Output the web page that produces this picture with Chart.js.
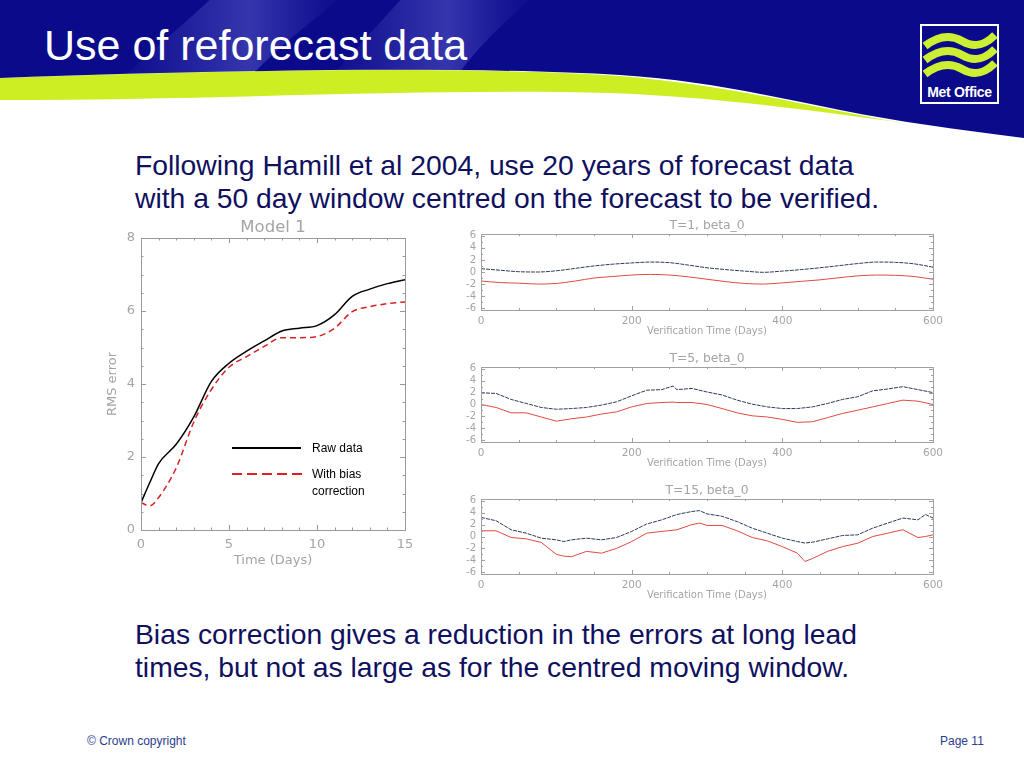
<!DOCTYPE html>
<html>
<head>
<meta charset="utf-8">
<script src="https://cdn.jsdelivr.net/npm/chart.js"></script>
<style>
body { margin: 0; background: #fff; }
#slide { position: relative; width: 1024px; height: 768px; overflow: hidden; font-family: "Liberation Sans", Arial, sans-serif; }
.abs { position: absolute; }
.body-text { color: #101060; font-size: 28.3px; line-height: 33px; white-space: nowrap; }
.foot { color: #2b3d8c; font-size: 12px; top: 734px; }
.leg { font-size: 12px; color: #000; line-height: 17px; }
canvas { position: absolute; }
</style>
</head>
<body>
<div id="slide">

<!-- Kopfzeile -->
<svg class="abs" style="left:0;top:0" width="1024" height="145" viewBox="0 0 1024 145">
  <defs>
    <linearGradient id="band" x1="0" y1="0" x2="1" y2="0">
      <stop offset="0" stop-color="#5a5ad0" stop-opacity="0"/>
      <stop offset="0.6" stop-color="#6a6ad8" stop-opacity="0.45"/>
      <stop offset="1" stop-color="#5a5ad0" stop-opacity="0"/>
    </linearGradient>
    <clipPath id="blueClip">
      <path d="M0,0 H1024 V138 C960,130 900,122 840,110 C760,94 700,80 620,75 C470,66 220,70 0,78 Z"/>
    </clipPath>
  </defs>
  <path d="M0,78 C220,70 480,66 620,76 C740,86 830,112 905,123 C820,112 720,97 610,93 C430,88 220,100 0,100 Z" fill="#ccee22"/>
  <path d="M0,0 H1024 V138 C960,130 900,122 840,110 C760,94 700,80 620,75 C470,66 220,70 0,78 Z" fill="#0a0a8a"/>
  <g clip-path="url(#blueClip)">
    <path d="M215,-5 L345,-5 C300,30 260,62 235,95 L105,95 C140,60 180,28 215,-5 Z" fill="url(#band)"/>
    <path d="M405,-5 L535,-5 C495,30 465,60 445,95 L315,95 C345,60 375,28 405,-5 Z" fill="url(#band)"/>
  </g>
  <rect x="921" y="25" width="77" height="78" fill="#0a0a8a" stroke="#fff" stroke-width="2"/>
  <path d="M925,46 C938,36 950,34 962,41 S984,46 995,35" stroke="#ccee33" stroke-width="8" fill="none"/>
  <path d="M925,60 C938,50 950,48 962,55 S984,60 995,49" stroke="#ccee33" stroke-width="8" fill="none"/>
  <path d="M925,74 C938,64 950,62 962,69 S984,74 995,63" stroke="#ccee33" stroke-width="8" fill="none"/>
  <text x="959.5" y="97" text-anchor="middle" fill="#fff" font-family="Liberation Sans, Arial, sans-serif" font-weight="bold" font-size="14" letter-spacing="-0.3">Met Office</text>
</svg>
<div class="abs" style="left:44px;top:21px;color:#fff;font-size:43px;white-space:nowrap;">Use of reforecast data</div>

<div class="abs body-text" style="left:135px;top:149px;">Following Hamill et al 2004, use 20 years of forecast data<br>with a 50 day window centred on the forecast to be verified.</div>

<canvas id="model"></canvas>
<canvas id="t1"></canvas>
<canvas id="t5"></canvas>
<canvas id="t15"></canvas>

<!-- Legende im linken Diagramm -->
<div class="abs" style="left:232px;top:447px;width:69px;border-top:2px solid #000;"></div>
<svg class="abs" style="left:232px;top:469px" width="72" height="10"><line x1="0" y1="5" x2="72" y2="5" stroke="#e02020" stroke-width="2" stroke-dasharray="10,5"/></svg>
<div class="abs leg" style="left:312px;top:440px;">Raw data</div>
<div class="abs leg" style="left:312px;top:466px;">With bias<br>correction</div>

<div class="abs body-text" style="left:135px;top:618px;">Bias correction gives a reduction in the errors at long lead<br>times, but not as large as for the centred moving window.</div>

<div class="abs foot" style="left:87px;">© Crown copyright</div>
<div class="abs foot" style="left:940px;">Page 11</div>
</div>

<script>
// Model 1: RMS-Fehler
var modelDays = [0, 0.5, 1, 2, 3, 4, 5, 6, 7, 8, 9, 10, 11, 12, 13, 14, 15];
var rawRms    = [0.75, 1.3, 1.82, 2.35, 3.1, 4.07, 4.57, 4.9, 5.18, 5.45, 5.53, 5.6, 5.9, 6.4, 6.6, 6.75, 6.86];
var biasRms   = [0.75, 0.66, 0.89, 1.7, 2.96, 3.85, 4.46, 4.75, 5.03, 5.27, 5.27, 5.3, 5.53, 5.98, 6.12, 6.2, 6.25];

// T=1, beta_0
var t1Days = [0, 25, 50, 75, 100, 125, 150, 175, 200, 225, 250, 275, 300, 325, 350, 375, 400, 425, 450, 475, 500, 525, 550, 575, 600];
var t1Dark = [0.55, 0.3, 0.05, 0, 0.2, 0.6, 1.0, 1.3, 1.5, 1.65, 1.55, 1.15, 0.7, 0.4, 0.15, -0.05, 0.15, 0.4, 0.7, 1.05, 1.4, 1.65, 1.6, 1.35, 0.8];
var t1Red  = [-1.5, -1.75, -1.85, -2.0, -1.9, -1.5, -1.0, -0.75, -0.5, -0.4, -0.5, -0.8, -1.2, -1.6, -1.9, -2.0, -1.8, -1.55, -1.3, -0.95, -0.65, -0.5, -0.55, -0.75, -1.2];

// T=5, beta_0
var t5Days = [0, 20, 40, 60, 80, 100, 120, 140, 160, 180, 200, 220, 240, 255, 260, 280, 300, 320, 340, 360, 380, 400, 420, 440, 460, 480, 500, 520, 540, 560, 580, 600];
var t5Dark = [1.97, 1.86, 0.85, 0.17, -0.5, -0.8, -0.68, -0.5, -0.1, 0.45, 1.46, 2.4, 2.5, 3.1, 2.5, 2.7, 2.1, 1.6, 0.73, 0.06, -0.4, -0.68, -0.68, -0.4, 0.17, 0.85, 1.3, 2.3, 2.6, 3.0, 2.5, 2.0];
var t5Red  = [0, -0.5, -1.4, -1.4, -2.1, -2.8, -2.4, -2.1, -1.6, -1.24, -0.4, 0.17, 0.34, 0.4, 0.34, 0.34, 0, -0.68, -1.4, -1.9, -2.1, -2.5, -3.0, -2.9, -2.2, -1.5, -0.96, -0.4, 0.17, 0.73, 0.56, 0];

// T=15, beta_0
var t15Days = [0, 20, 40, 60, 80, 100, 110, 120, 140, 160, 180, 200, 220, 240, 260, 280, 290, 300, 320, 340, 360, 380, 400, 420, 430, 440, 460, 480, 500, 520, 540, 560, 580, 590, 600];
var t15Dark = [3.2, 2.65, 1.13, 0.56, -0.28, -0.56, -0.85, -0.56, -0.28, -0.56, -0.17, 0.85, 2.1, 2.8, 3.7, 4.2, 4.35, 3.8, 3.4, 2.5, 1.4, 0.56, -0.28, -0.85, -1.1, -0.96, -0.4, 0.17, 0.28, 1.4, 2.26, 3.1, 2.8, 3.7, 3.1];
var t15Red  = [0.96, 0.96, -0.17, -0.4, -1.0, -3.0, -3.3, -3.4, -2.5, -2.8, -2.0, -0.85, 0.56, 0.85, 1.13, 2.0, 2.26, 1.86, 1.86, 0.96, -0.17, -0.73, -1.7, -2.8, -4.2, -3.7, -2.5, -1.7, -1.13, 0, 0.56, 1.13, -0.17, 0, 0.28];

var stripYTicks = [-6, -4, -2, 0, 2, 4, 6];

Chart.defaults.font.family = '"DejaVu Sans", sans-serif';
Chart.defaults.color = '#a4a4a4';
Chart.defaults.animation = false;

function pts(xs, ys) {
    return xs.map(function (x, i) { return { x: x, y: ys[i] }; });
}

// Rahmen mit Innen-Ticks (IDL-Stil)
var idlFrame = {
    id: 'idlFrame',
    afterDatasetsDraw: function (chart, args, o) {
        var a = chart.chartArea, ctx = chart.ctx;
        var xs = chart.scales.x, ys = chart.scales.y;
        ctx.save();
        ctx.strokeStyle = o.color;
        ctx.lineWidth = 1;
        ctx.strokeRect(a.left + 0.5, a.top + 0.5, a.right - a.left, a.bottom - a.top);
        ctx.beginPath();
        var v, p, L;
        for (v = Math.ceil(xs.min / o.xMinor) * o.xMinor; v <= xs.max + 1e-9; v += o.xMinor) {
            L = Math.abs(v / o.xMajor - Math.round(v / o.xMajor)) < 1e-6 ? o.len : o.len / 2;
            p = Math.round(xs.getPixelForValue(v)) + 0.5;
            ctx.moveTo(p, a.bottom); ctx.lineTo(p, a.bottom - L);
            ctx.moveTo(p, a.top); ctx.lineTo(p, a.top + L);
        }
        for (v = Math.ceil(ys.min / o.yMinor) * o.yMinor; v <= ys.max + 1e-9; v += o.yMinor) {
            L = Math.abs(v / o.yMajor - Math.round(v / o.yMajor)) < 1e-6 ? o.len : o.len / 2;
            p = Math.round(ys.getPixelForValue(v)) + 0.5;
            ctx.moveTo(a.left, p); ctx.lineTo(a.left + L, p);
            ctx.moveTo(a.right, p); ctx.lineTo(a.right - L, p);
        }
        ctx.stroke();
        ctx.restore();
    }
};

function setupCanvas(id, left, top, w, h) {
    var c = document.getElementById(id);
    c.width = w; c.height = h;
    c.style.left = left + 'px'; c.style.top = top + 'px';
    c.style.width = w + 'px'; c.style.height = h + 'px';
    return c;
}

var noGrid = { display: false, drawTicks: false, tickLength: 0 };

// Linkes Diagramm
new Chart(setupCanvas('model', 95, 215, 356, 360), {
    type: 'line',
    data: {
        datasets: [
            { data: pts(modelDays, rawRms), borderColor: '#000', borderWidth: 1.5, pointRadius: 0, cubicInterpolationMode: 'monotone' },
            { data: pts(modelDays, biasRms), borderColor: '#d82020', borderWidth: 1.5, borderDash: [6, 4], pointRadius: 0, cubicInterpolationMode: 'monotone' }
        ]
    },
    options: {
        responsive: false,
        layout: { padding: { right: 46 } },
        plugins: {
            legend: { display: false },
            tooltip: { enabled: false },
            title: { display: true, fullSize: false, text: 'Model 1', font: { size: 16.5, weight: 'normal', lineHeight: 1 }, padding: { top: 4, bottom: 2.5 }, color: '#a4a4a4' },
            idlFrame: { color: '#9a9a9a', len: 5, xMinor: 1, xMajor: 5, yMinor: 0.5, yMajor: 2 }
        },
        scales: {
            x: {
                type: 'linear', min: 0, max: 15,
                grid: noGrid, border: { display: false },
                ticks: { stepSize: 5, padding: 7, font: { size: 13 }, maxRotation: 0 },
                title: { display: true, text: 'Time (Days)', font: { size: 13 }, padding: { top: 0, bottom: 7 } },
                afterFit: function (s) { s.height = 45; }
            },
            y: {
                min: 0, max: 8,
                grid: noGrid, border: { display: false },
                ticks: { stepSize: 2, padding: 6, font: { size: 13 } },
                title: { display: true, text: 'RMS error', font: { size: 13 }, padding: { top: 10, bottom: 0 } },
                afterFit: function (s) { s.width = 46; }
            }
        }
    },
    plugins: [idlFrame]
});

// Kleine Zeitreihen rechts
function stripChart(id, top, h, title, days, dark, red, smooth) {
    new Chart(setupCanvas(id, 440, top, 534, h), {
        type: 'line',
        data: {
            datasets: [
                { data: pts(days, red), borderColor: '#e04a40', borderWidth: 1, pointRadius: 0, cubicInterpolationMode: smooth ? 'monotone' : 'default', tension: 0 },
                { data: pts(days, dark), borderColor: '#2e3a58', borderWidth: 1, borderDash: [4, 1], pointRadius: 0, cubicInterpolationMode: smooth ? 'monotone' : 'default', tension: 0 }
            ]
        },
        options: {
            responsive: false,
            layout: { padding: { right: 41 } },
            plugins: {
                legend: { display: false },
                tooltip: { enabled: false },
                title: { display: true, fullSize: false, text: title, font: { size: 12.3, weight: 'normal', lineHeight: 1 }, padding: { top: 5, bottom: 1.7 }, color: '#a4a4a4' },
                idlFrame: { color: '#a0a0a0', len: 4, xMinor: 50, xMajor: 200, yMinor: 1, yMajor: 2 }
            },
            scales: {
                x: {
                    type: 'linear', min: 0, max: 600,
                    grid: noGrid, border: { display: false },
                    ticks: { stepSize: 200, padding: 5, font: { size: 10.5 }, maxRotation: 0 },
                    title: { display: true, text: 'Verification Time (Days)', font: { size: 10 }, padding: { top: 0, bottom: 8 } },
                    afterFit: function (s) { s.height = 35; }
                },
                y: {
                    min: -6.3, max: 6.3,
                    grid: noGrid, border: { display: false },
                    ticks: { padding: 5, font: { size: 10 }, autoSkip: false },
                    afterBuildTicks: function (s) { s.ticks = stripYTicks.map(function (v) { return { value: v }; }); },
                    afterFit: function (s) { s.width = 41; }
                }
            }
        },
        plugins: [idlFrame]
    });
}

stripChart('t1', 215, 130, 'T=1, beta_0', t1Days, t1Dark, t1Red, true);
stripChart('t5', 348, 129, 'T=5, beta_0', t5Days, t5Dark, t5Red, false);
stripChart('t15', 480, 129, 'T=15, beta_0', t15Days, t15Dark, t15Red, false);
</script>
</body>
</html>
